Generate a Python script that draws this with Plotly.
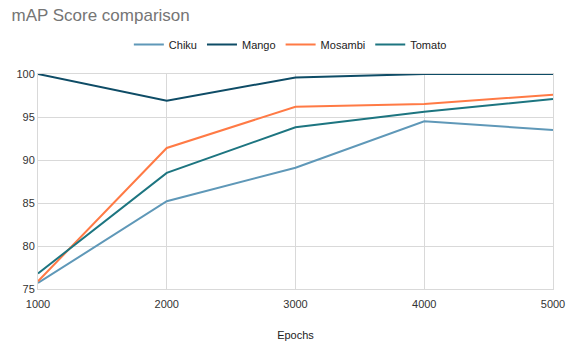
import plotly.graph_objects as go

epochs = [1000, 2000, 3000, 4000, 5000]
chiku = [75.7, 85.2, 89.1, 94.5, 93.5]
mango = [100.0, 96.9, 99.6, 100.0, 100.0]
mosambi = [75.9, 91.4, 96.2, 96.5, 97.6]
tomato = [76.8, 88.5, 93.8, 95.6, 97.1]

series = [
    ("Chiku", chiku, "#5f98b8"),
    ("Mango", mango, "#0e4c66"),
    ("Mosambi", mosambi, "#ff7a45"),
    ("Tomato", tomato, "#1d7580"),
]

fig = go.Figure()
for name, vals, color in series:
    fig.add_trace(go.Scatter(x=epochs, y=vals, name=name, mode="lines",
                             line=dict(color=color, width=2)))

fig.update_layout(
    width=574, height=344,
    margin=dict(l=38, r=21, t=74, b=55),
    paper_bgcolor="white", plot_bgcolor="white",
    font=dict(family="Arial, Liberation Sans, sans-serif", color="#333333", size=11),
    title=dict(text="mAP Score comparison", x=0.02, xanchor="left", y=0.955, yanchor="middle",
               font=dict(size=17, color="#757575")),
    legend=dict(orientation="h", x=0.49, xanchor="center", y=1.07, yanchor="bottom",
                font=dict(size=11, color="#222222"), itemwidth=30),
    showlegend=True,
    xaxis=dict(range=[1000, 5000], tickvals=epochs, ticktext=[str(e) for e in epochs],
               showgrid=True, gridcolor="#d9d9d9", zeroline=False,
               showline=True, linecolor="#d9d9d9", mirror=True, automargin=False,
               ticklabelstandoff=5,
               title=dict(text="Epochs", font=dict(size=11, color="#222222"), standoff=22),
               ticks="", tickfont=dict(size=11, color="#333333")),
    yaxis=dict(range=[75, 100], tickvals=[75, 80, 85, 90, 95, 100],
               showgrid=True, gridcolor="#d9d9d9", zeroline=False, automargin=False,
               showline=True, linecolor="#d9d9d9", mirror=True,
               ticks="", tickfont=dict(size=11, color="#333333")),
)

fig.write_html("out.html")
